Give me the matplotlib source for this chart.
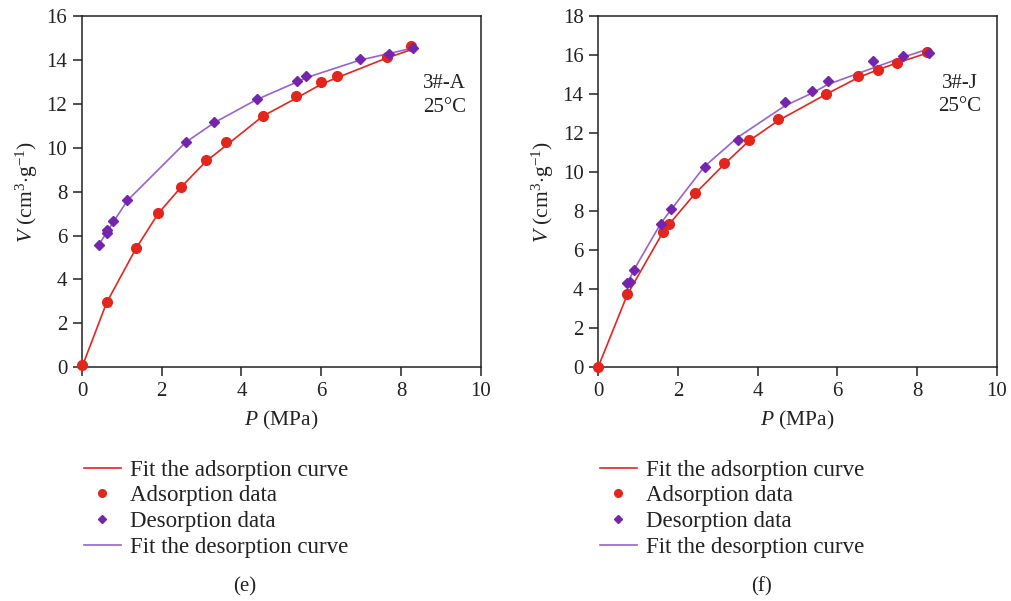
import matplotlib
matplotlib.use('Agg')
import matplotlib.pyplot as plt
from matplotlib.lines import Line2D

plt.rcParams['font.family'] = ['Liberation Serif', 'DejaVu Serif']
plt.rcParams['mathtext.fontset'] = 'custom'
plt.rcParams['mathtext.rm'] = 'Liberation Serif'
plt.rcParams['mathtext.it'] = 'Liberation Serif:italic'

# 3#-A sample, 25 °C
a_ads_p = [0.0, 0.62, 1.35, 1.91, 2.48, 3.12, 3.61, 4.54, 5.36, 6.00, 6.40, 7.65, 8.26]
a_ads_v = [0.10, 2.96, 5.43, 7.01, 8.22, 9.44, 10.26, 11.46, 12.37, 12.99, 13.28, 14.16, 14.64]
a_des_p = [0.43, 0.62, 0.62, 0.78, 1.14, 2.60, 3.32, 4.38, 5.39, 5.63, 6.97, 7.70, 8.31]
a_des_v = [5.58, 6.27, 6.12, 6.65, 7.62, 10.26, 11.17, 12.23, 13.05, 13.28, 14.04, 14.26, 14.57]
a_ads_fit_p = [0.0, 0.62, 1.35, 1.91, 2.48, 3.12, 3.61, 4.54, 5.36, 6.00, 6.40, 7.65, 8.30]
a_ads_fit_v = [0.0, 2.95, 5.40, 7.00, 8.20, 9.40, 10.10, 11.45, 12.25, 12.90, 13.20, 14.10, 14.50]
a_des_fit_p = [0.43, 0.62, 0.78, 1.14, 2.60, 3.32, 4.38, 5.39, 5.63, 6.97, 7.70, 8.30]
a_des_fit_v = [5.60, 6.15, 6.60, 7.60, 10.25, 11.15, 12.20, 13.00, 13.20, 14.00, 14.30, 14.55]

# 3#-J sample, 25 °C
j_ads_p = [0.0, 0.735, 1.62, 1.79, 2.43, 3.16, 3.78, 4.52, 5.72, 6.52, 7.01, 7.49, 8.24]
j_ads_v = [0.0, 3.73, 6.92, 7.35, 8.93, 10.45, 11.64, 12.73, 13.99, 14.91, 15.24, 15.58, 16.18]
j_des_p = [0.735, 0.79, 0.90, 1.58, 1.82, 2.67, 3.51, 4.68, 5.36, 5.76, 6.90, 7.65, 8.30]
j_des_v = [4.31, 4.38, 4.99, 7.35, 8.10, 10.29, 11.64, 13.58, 14.16, 14.66, 15.68, 15.94, 16.09]
j_ads_fit_p = [0.0, 0.735, 1.62, 1.79, 2.43, 3.16, 3.78, 4.52, 5.72, 6.52, 7.01, 7.49, 8.24]
j_ads_fit_v = [0.0, 3.73, 6.90, 7.35, 8.90, 10.40, 11.60, 12.65, 14.00, 14.85, 15.25, 15.60, 16.10]
j_des_fit_p = [0.735, 0.90, 1.58, 1.82, 2.67, 3.51, 4.68, 5.36, 5.76, 6.90, 7.65, 8.30]
j_des_fit_v = [4.30, 5.00, 7.40, 8.05, 10.30, 11.80, 13.40, 14.05, 14.50, 15.35, 15.90, 16.33]

labels = ['Fit the adsorption curve', 'Adsorption data', 'Desorption data', 'Fit the desorption curve']

RED = '#e3261d'
PURPLE = '#7424ad'
PURPLE_LINE = '#9a62cc'
INK = '#222222'

fig = plt.figure(figsize=(10.12, 6.01), dpi=100)


def panel(rect, ads_p, ads_v, des_p, des_v, afp, afv, dfp, dfv, ymax, tag, tx, ty, letter, lx):
    ax = fig.add_axes(rect)
    ax.plot(afp, afv, color=RED, lw=1.2, zorder=2)
    ax.plot(dfp, dfv, color=PURPLE_LINE, lw=1.2, zorder=2)
    ax.plot(ads_p, ads_v, 'o', color=RED, ms=7, zorder=3, clip_on=False)
    ax.plot(des_p, des_v, 'D', color=PURPLE, ms=5, zorder=4, clip_on=False)
    ax.set_xlim(0, 10)
    ax.set_ylim(0, ymax)
    ax.set_xticks(range(0, 11, 2))
    ax.set_yticks(range(0, ymax + 1, 2))
    ax.tick_params(labelsize=15, direction='out', length=6.5, width=1.1, colors=INK, pad=4)
    for s in ax.spines.values():
        s.set_linewidth(1.1)
        s.set_color(INK)
    ax.set_xlabel(r'$\it{P}$ (MPa)', fontsize=15.5, labelpad=6, color=INK)
    ax.set_ylabel(r'$\it{V}$ (cm$^3$$\cdot$g$^{-1}$)', fontsize=15.5, labelpad=5, color=INK)
    ax.text(tx, ty, tag + '\n25°C', ha='center', va='top', fontsize=15,
            linespacing=1.3, color=INK)

    handles = [
        Line2D([], [], color=RED, lw=1.2),
        Line2D([], [], ls='', marker='o', color=RED, ms=5.5),
        Line2D([], [], ls='', marker='D', color=PURPLE, ms=4),
        Line2D([], [], color=PURPLE_LINE, lw=1.2),
    ]
    fig.legend(handles, labels, loc='upper left', bbox_to_anchor=(rect[0] + 0.002, 0.235),
               frameon=False, fontsize=16.5, handlelength=1.6, handletextpad=0.42,
               labelspacing=0.2, borderaxespad=0, borderpad=0, labelcolor=INK)
    fig.text(lx, 0.008, letter, ha='center', va='bottom', fontsize=15, color=INK)
    return ax


panel([0.081, 0.389, 0.394, 0.584], a_ads_p, a_ads_v, a_des_p, a_des_v,
      a_ads_fit_p, a_ads_fit_v, a_des_fit_p, a_des_fit_v, 16, '3#-A', 9.1, 13.35, '(e)', 0.242)
panel([0.591, 0.389, 0.394, 0.584], j_ads_p, j_ads_v, j_des_p, j_des_v,
      j_ads_fit_p, j_ads_fit_v, j_des_fit_p, j_des_fit_v, 18, '3#-J', 9.07, 15.05, '(f)', 0.752)

fig.savefig('out.png', dpi=100)
